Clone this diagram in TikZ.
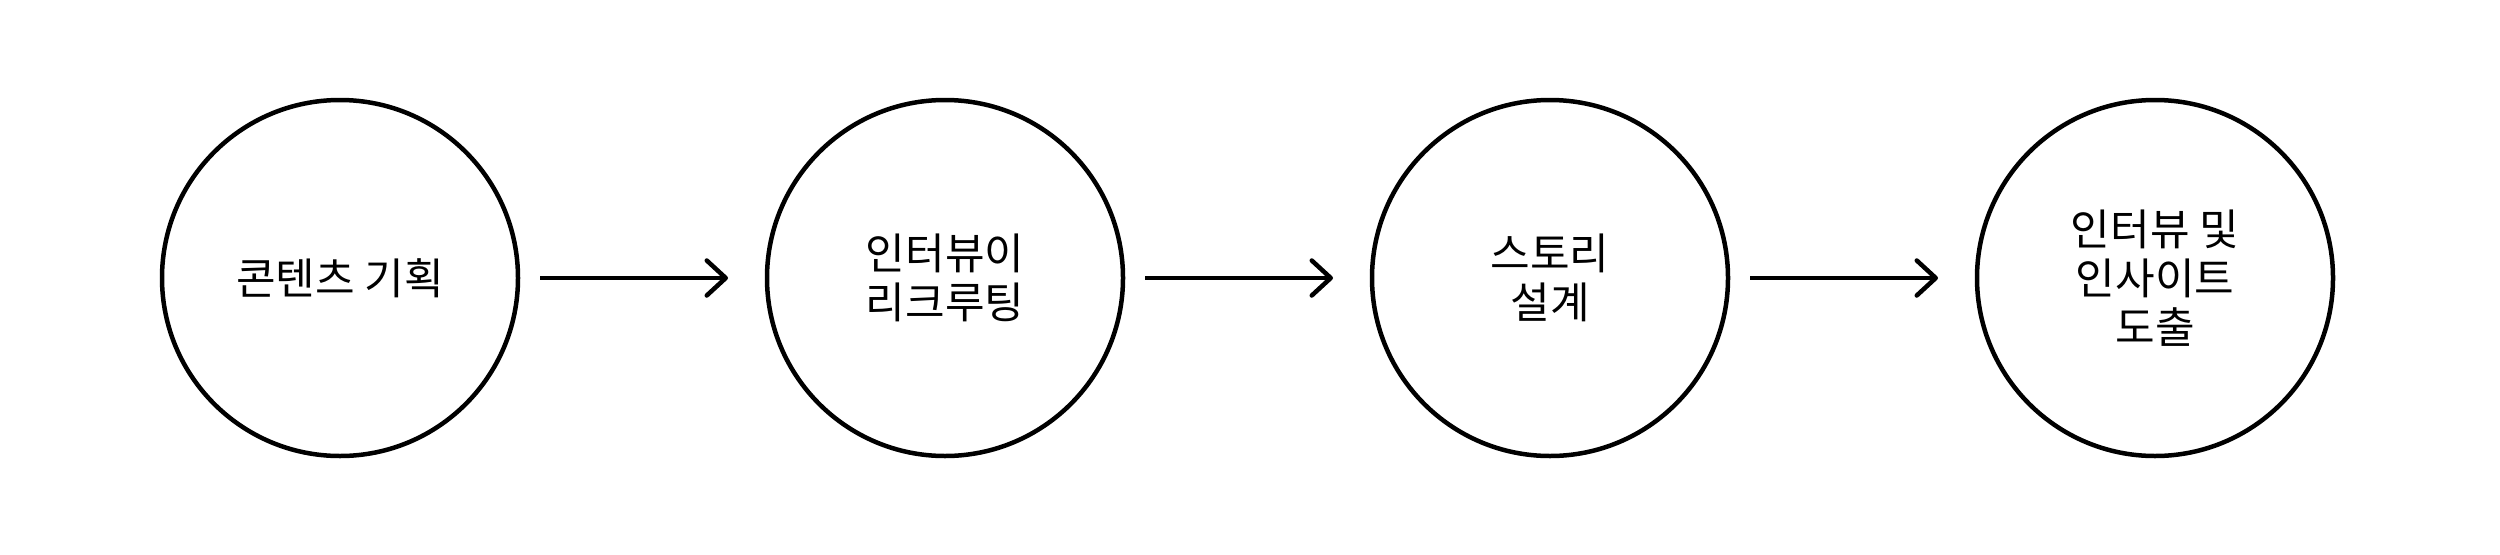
\documentclass[tikz,border=0pt]{standalone}
\usepackage{fontspec}
\setmainfont{Noto Sans CJK KR}
\usetikzlibrary{positioning,arrows.meta}

\begin{document}
\begin{tikzpicture}[
    stage/.style={circle, draw, line width=0.09cm, minimum size=7.12cm,
      inner sep=0pt, outer sep=0pt, align=center,
      font=\fontsize{24.5}{28}\selectfont},
    flow/.style={line width=0.09cm,
      -{Straight Barb[length=0.38cm, width=0.7cm, round]},
      shorten <=0.44cm, shorten >=0.78cm}]
  \useasboundingbox (0,0) rectangle (50,-11.08);
  \node[stage] (plan) at (6.8,-5.56) {콘텐츠 기획};
  \node[stage, right=4.98cm of plan] (recruit) {인터뷰이\\리크루팅};
  \node[stage, right=4.98cm of recruit] (story) {스토리\\설계};
  \node[stage, right=4.98cm of story] (insight) {인터뷰 및\\인사이트\\도출};
  \draw[flow] (plan) -- (recruit);
  \draw[flow] (recruit) -- (story);
  \draw[flow] (story) -- (insight);
\end{tikzpicture}
\end{document}
